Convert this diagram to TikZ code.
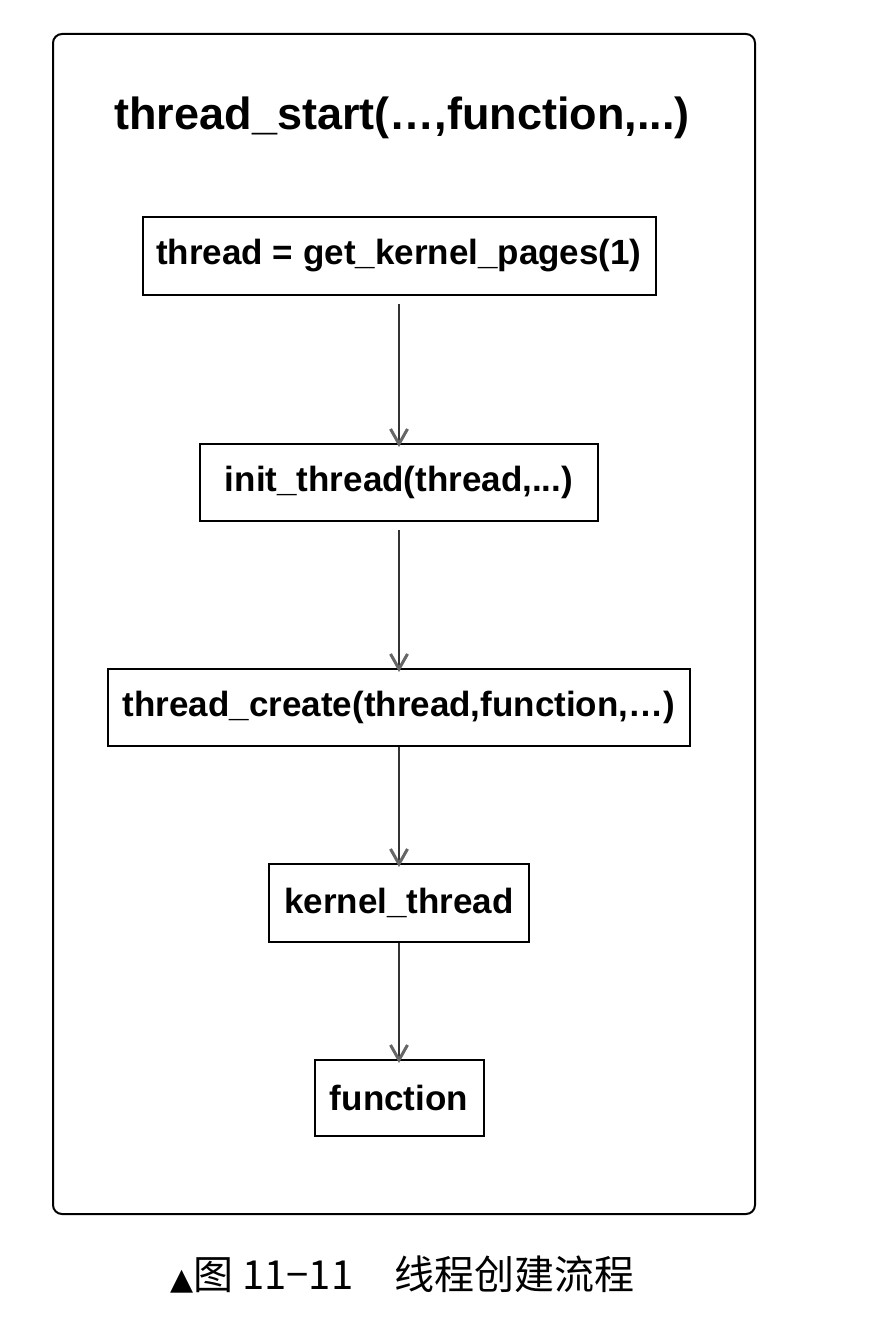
\documentclass[tikz,border=0pt]{standalone}
\usepackage{fontspec}
\setmainfont{Liberation Sans}
\newfontfamily\cjk{Noto Sans CJK SC}
\newfontfamily\symfont{DejaVu Sans}
\usetikzlibrary{arrows.meta}
\begin{document}
\begin{tikzpicture}[x=1pt,y=-1pt,
  stepbox/.style={draw=black,line width=2pt,inner sep=0pt,font=\fontsize{35}{38}\selectfont\bfseries},
  flow/.style={draw=black!80,line width=1.5pt,-{Straight Barb[length=15pt,width=17pt,line width=3pt,color=black!60]}},
  frame/.style={draw=black,line width=2pt,rounded corners=9pt}
]
\useasboundingbox (0,0) rectangle (896,1322);
\draw[frame] (53,34) rectangle (755,1214);
\node[font=\fontsize{45}{48}\selectfont\bfseries] (title) at (402,118) {thread\_start(…,function,...)};
\node[stepbox,minimum width=513pt,minimum height=78pt] (b1) at (399,256) {thread = get\_kernel\_pages(1)};
\node[stepbox,minimum width=398pt,minimum height=77pt] (b2) at (399,482.5) {init\_thread(thread,...)};
\node[stepbox,minimum width=582pt,minimum height=77pt] (b3) at (399,707.5) {thread\_create(thread,function,…)};
\node[stepbox,minimum width=260pt,minimum height=78pt] (b4) at (399,903) {kernel\_thread};
\node[stepbox,minimum width=169pt,minimum height=76pt] (b5) at (399,1098) {function};
\draw[flow] ([yshift=-8pt]b1.south) -- ([yshift=-4pt]b2.north);
\draw[flow] ([yshift=-8pt]b2.south) -- ([yshift=-4pt]b3.north);
\draw[flow] (b3.south) -- ([yshift=-4pt]b4.north);
\draw[flow] (b4.south) -- ([yshift=-4pt]b5.north);
\node[anchor=base west,inner sep=0pt] (cap1) at (170,1289) {{\symfont\fontsize{30}{32}\selectfont ▲}{\cjk\fontsize{40}{44}\selectfont 图 11−11}};
\node[anchor=base west,inner sep=0pt,font=\cjk\fontsize{40}{44}\selectfont] (cap2) at (394,1289) {线程创建流程};
\end{tikzpicture}
\end{document}
